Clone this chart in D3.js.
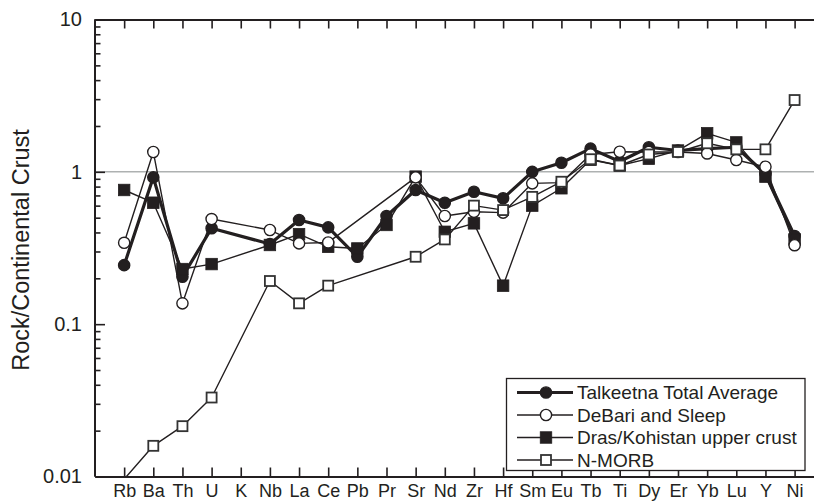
<!DOCTYPE html>
<html>
<head>
<meta charset="utf-8">
<script src="https://cdn.jsdelivr.net/npm/d3@7"></script>
<style>
  html, body { margin: 0; padding: 0; background: #fff; }
  svg { display: block; font-family: "Liberation Sans", Arial, Helvetica, sans-serif; }
</style>
</head>
<body>
<svg id="chart" width="814" height="502"></svg>
<script>
// Trace elements along the x axis (spider diagram order)
const elements = ["Rb","Ba","Th","U","K","Nb","La","Ce","Pb","Pr","Sr","Nd","Zr","Hf","Sm","Eu","Tb","Ti","Dy","Er","Yb","Lu","Y","Ni"];

// Rock / continental crust ratios; null = not reported
const talkeetna = [0.244, 0.92, 0.205, 0.426, null, 0.336, 0.483, 0.432, 0.277, 0.513, 0.76, 0.627, 0.74, 0.67, 1.0, 1.148, 1.42, 1.17, 1.45, 1.38, 1.42, 1.45, 0.97, 0.379];
const debari    = [0.342, 1.35, 0.137, 0.49, null, 0.415, 0.339, 0.344, null, null, 0.92, 0.513, 0.547, 0.54, 0.84, 0.85, 1.3, 1.355, 1.35, 1.35, 1.32, 1.195, 1.08, 0.33];
const dras      = [0.76, 0.627, 0.23, 0.248, null, 0.331, 0.39, 0.322, 0.314, 0.448, 0.93, 0.404, 0.459, 0.179, 0.6, 0.78, 1.2, 1.1, 1.22, 1.38, 1.79, 1.56, 0.93, 0.36];
const nmorb     = [0.0096, 0.0159, 0.0214, 0.033, null, 0.192, 0.137, 0.179, null, null, 0.277, 0.36, 0.6, 0.561, 0.685, 0.861, 1.21, 1.1, 1.3, 1.35, 1.54, 1.405, 1.405, 2.96];

const seriesNames = ["Talkeetna Total Average", "DeBari and Sleep", "Dras/Kohistan upper crust", "N-MORB"];
const yTickValues = [0.01, 0.1, 1, 10];
const yTickLabels = ["0.01", "0.1", "1", "10"];

const ink = "#231f20";
const svg = d3.select("#chart");

const plotLeft = 95, plotTop = 19.5, plotBottom = 476.5;
const step = 29.15;
const plotRight = plotLeft + step * (elements.length + 1);

const x = d3.scalePoint().domain(elements).range([plotLeft, plotRight]).padding(1);
const y = d3.scaleLog().domain([0.01, 10]).range([plotBottom, plotTop]);
const [yMin, yMax] = y.domain();

// clip for the plotting area
svg.append("defs").append("clipPath").attr("id", "plotclip")
  .append("rect").attr("x", plotLeft).attr("y", plotTop)
  .attr("width", plotRight - plotLeft).attr("height", plotBottom - plotTop);

// reference line at ratio = 1
svg.append("line")
  .attr("x1", plotLeft).attr("x2", plotRight)
  .attr("y1", y(1)).attr("y2", y(1))
  .attr("stroke", "#aeb1b1").attr("stroke-width", 1.5);

// axes: ticks point inward
const bottomAxis = d3.axisBottom(x).tickSizeInner(-9).tickSizeOuter(0).tickPadding(7.7);
const topAxis = d3.axisTop(x).tickSizeInner(-9).tickSizeOuter(0).tickFormat("");

const gB = svg.append("g").attr("transform", `translate(0,${plotBottom})`).call(bottomAxis);
const gT = svg.append("g").attr("transform", `translate(0,${plotTop})`).call(topAxis);

// log axis: minor ticks at 2..9 of every decade, major at decades
const minorVals = [];
[0.01, 0.1, 1].forEach(d => { for (let k = 2; k <= 9; k++) minorVals.push(+(d * k).toPrecision(3)); });
const gL = svg.append("g").attr("transform", `translate(${plotLeft},0)`);
gL.call(d3.axisLeft(y).tickValues(minorVals).tickSizeInner(-5.5).tickSizeOuter(0).tickFormat(""));
gL.append("g").call(d3.axisLeft(y).tickValues(yTickValues).tickSizeInner(-10).tickSizeOuter(0)
  .tickPadding(13).tickFormat((d, i) => yTickLabels[i]));

[gB, gT, gL].forEach(g => {
  g.selectAll(".domain").attr("stroke", ink).attr("stroke-width", 2);
  g.selectAll(".tick line").attr("stroke", ink).attr("stroke-width", 1.6);
  g.selectAll("text").attr("fill", ink).attr("font-family", "Liberation Sans, Arial, sans-serif");
});
gB.selectAll("text").attr("font-size", 18);
gL.selectAll("text").attr("font-size", 20);
gL.selectAll(".domain").attr("d", `M0,${plotBottom}V${plotTop}`);

// y title
svg.append("text")
  .attr("transform", `translate(29,250) rotate(-90)`)
  .attr("text-anchor", "middle")
  .attr("font-size", 23.5)
  .attr("fill", ink)
  .text("Rock/Continental Crust");

// series (drawing order chosen so open markers sit on top)
const series = [
  { name: seriesNames[0], values: talkeetna, marker: "circle", fill: ink,    width: 3.2 },
  { name: seriesNames[2], values: dras,      marker: "square", fill: ink,    width: 1.4 },
  { name: seriesNames[1], values: debari,    marker: "circle", fill: "#fff", width: 1.4 },
  { name: seriesNames[3], values: nmorb,     marker: "square", fill: "#fff", width: 1.4 }
];

const plot = svg.append("g").attr("clip-path", "url(#plotclip)");
const line = d3.line().x(d => x(d.el)).y(d => y(d.v));

function drawMarker(g, type, fill, cx, cy) {
  if (type === "circle") {
    g.append("circle").attr("cx", cx).attr("cy", cy).attr("r", 5.6)
      .attr("fill", fill).attr("stroke", ink).attr("stroke-width", 1.4);
  } else {
    const s = fill === ink ? 11.5 : 10;
    g.append("rect").attr("x", cx - s / 2).attr("y", cy - s / 2).attr("width", s).attr("height", s)
      .attr("fill", fill).attr("stroke", fill === ink ? ink : "#333")
      .attr("stroke-width", fill === ink ? 0.8 : 1.8);
  }
}

series.forEach(s => {
  const pts = elements.map((el, i) => ({ el, v: s.values[i] })).filter(d => d.v != null);
  const g = plot.append("g");
  g.append("path").datum(pts).attr("d", line)
    .attr("fill", "none").attr("stroke", ink).attr("stroke-width", s.width)
    .attr("stroke-linejoin", "round");
  // values outside the axis range keep their line segment but get no symbol
  pts.filter(d => d.v >= yMin && d.v <= yMax)
    .forEach(d => drawMarker(g, s.marker, s.fill, x(d.el), y(d.v)));
});

// legend
const lg = svg.append("g");
lg.append("rect").attr("x", 506.5).attr("y", 378.5).attr("width", 298.5).attr("height", 92)
  .attr("fill", "#fff").attr("stroke", ink).attr("stroke-width", 1.3);
const legendItems = [
  { name: seriesNames[0], marker: "circle", fill: ink,    width: 3.2 },
  { name: seriesNames[1], marker: "circle", fill: "#fff", width: 1.4 },
  { name: seriesNames[2], marker: "square", fill: ink,    width: 1.4 },
  { name: seriesNames[3], marker: "square", fill: "#fff", width: 1.4 }
];
legendItems.forEach((it, i) => {
  const cy = 392.5 + i * 22.5;
  lg.append("line").attr("x1", 517).attr("x2", 573).attr("y1", cy).attr("y2", cy)
    .attr("stroke", ink).attr("stroke-width", it.width);
  drawMarker(lg, it.marker, it.fill, 546, cy);
  lg.append("text").attr("x", 577).attr("y", cy).attr("dy", "0.35em")
    .attr("font-size", 19).attr("fill", ink).text(it.name);
});
</script>
</body>
</html>
